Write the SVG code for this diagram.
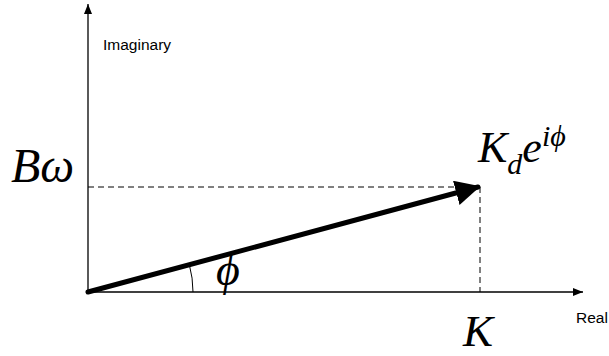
<svg xmlns="http://www.w3.org/2000/svg" width="609" height="356" viewBox="0 0 609 356">
<style>
.axis{stroke:#000;stroke-width:1.3;fill:none}
.dash{stroke:#000;stroke-width:1;stroke-dasharray:6,4;fill:none}
.lbl{font-family:"Liberation Sans",Arial,sans-serif;font-size:15.5px;fill:#000}
.math{font-family:"Liberation Serif","Times New Roman",serif;font-style:italic;fill:#000}
</style>
<defs>
<marker id="ah" viewBox="0 0 10 8" refX="10" refY="4" markerWidth="10" markerHeight="8" markerUnits="userSpaceOnUse" orient="auto">
<path d="M0,0 L10,4 L0,8 Z" fill="#000"/>
</marker>
<marker id="vh" viewBox="0 0 10 10" refX="9" refY="5" markerWidth="5" markerHeight="5" orient="auto">
<path d="M0,0 L10,5 L0,10 Z" fill="#000"/>
</marker>
</defs>
<rect width="609" height="356" fill="#fff"/>
<g id="connectors">
<line class="axis" x1="88" y1="292" x2="88" y2="4" marker-end="url(#ah)"/>
<line class="axis" x1="88" y1="292" x2="583" y2="292" marker-end="url(#ah)"/>
<line class="dash" x1="88" y1="187" x2="480" y2="187"/>
<line class="dash" x1="480" y1="187" x2="480" y2="292"/>
<line x1="88" y1="292" x2="478" y2="187" stroke="#000" stroke-width="5" stroke-linecap="round" marker-end="url(#vh)"/>
<path d="M193,292 A105,105 0 0 0 189.3,264.5" fill="none" stroke="#000" stroke-width="1"/>
</g>
<g id="imaginary"><text class="lbl" x="103" y="50">Imaginary</text></g>
<g id="real"><text class="lbl" x="576" y="323">Real</text></g>
<g id="bw"><text class="math" x="11" y="182" font-size="48">Bω</text></g>
<g id="kd"><text class="math" x="478" y="162" font-size="44">K<tspan font-size="30" dy="12">d</tspan><tspan dy="-12">e</tspan><tspan font-size="30" dy="-16">iϕ</tspan></text></g>
<g id="k"><text class="math" x="463" y="346" font-size="45">K</text></g>
<g id="phi"><text class="math" x="216" y="285" font-size="46">ϕ</text></g>
</svg>
